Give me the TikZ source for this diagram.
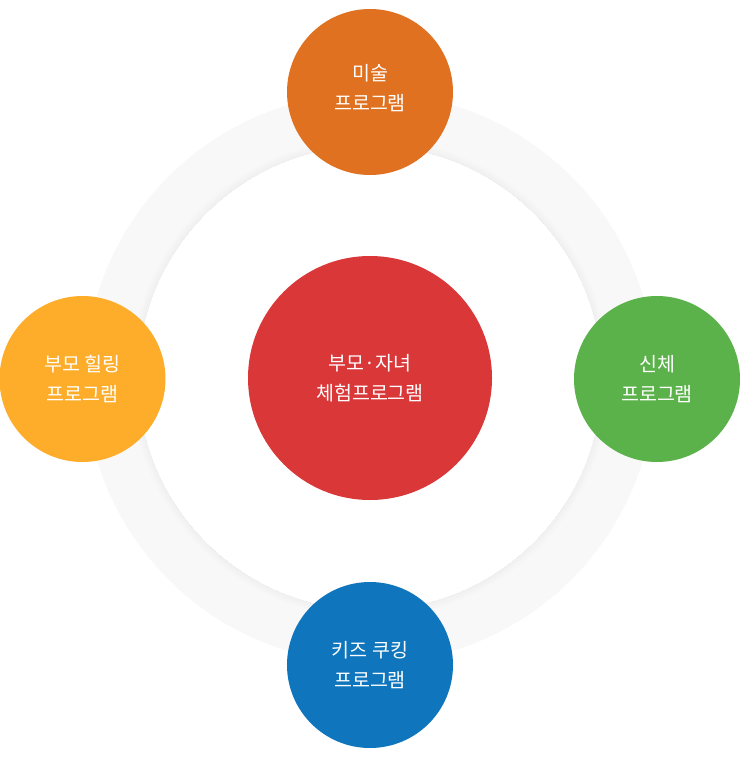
\documentclass[tikz,border=0pt]{standalone}
\usepackage{fontspec}
\setmainfont{Noto Sans CJK KR}
\definecolor{ringgray}{HTML}{F8F8F8}
\definecolor{corange}{HTML}{DF7120}
\definecolor{cred}{HTML}{DA3739}
\definecolor{cyellow}{HTML}{FDAD29}
\definecolor{cgreen}{HTML}{5BB24A}
\definecolor{cblue}{HTML}{0F75BC}
\begin{document}
\begin{tikzpicture}[x=1pt,y=-1pt,
  prog/.style={circle, minimum size=166pt, inner sep=0pt, text=white,
    align=center, font=\fontsize{19.5}{30}\selectfont},
  hub/.style={prog, minimum size=244pt},
  lbl/.style={prog, minimum size=0pt}]
\useasboundingbox (0,0) rectangle (740,760);
\coordinate (C) at (370,378);
% ring
\fill[ringgray, even odd rule] (C) circle (285) (C) circle (232);
\foreach \w in {1,2,3,4,5,6,7,8}
  \draw[black, opacity=0.004, line width=\w pt] (C) circle (232+\w/2);
% nodes
\node[hub, fill=cred] (center) at (C) {부모·자녀\\체험프로그램};
\node[prog, fill=corange] (top) at (370,92) {};
\node[prog, fill=cyellow] (left) at (82.5,379) {};
\node[prog, fill=cgreen] (right) at (657,379) {};
\node[prog, fill=cblue] (bottom) at (370,665) {};
\node[lbl] (toplbl) at ([yshift=4pt]top.center) {미술\\프로그램};
\node[lbl] (leftlbl) at (left.center) {부모 힐링\\프로그램};
\node[lbl] (rightlbl) at (right.center) {신체\\프로그램};
\node[lbl] (bottomlbl) at (bottom.center) {키즈 쿠킹\\프로그램};
\end{tikzpicture}
\end{document}
